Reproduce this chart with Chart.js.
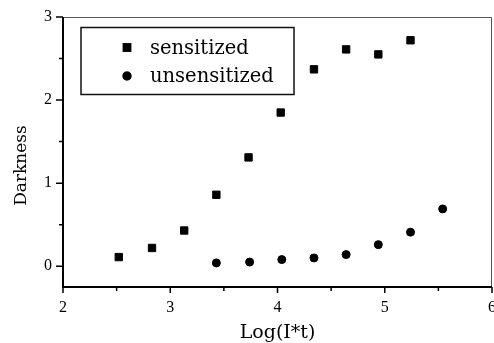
<!DOCTYPE html>
<html>
<head>
<meta charset="utf-8">
<script src="https://cdn.jsdelivr.net/npm/chart.js@4/dist/chart.umd.min.js"></script>
<style>
  html, body { margin: 0; padding: 0; background: #fff; }
  #wrap { width: 494px; height: 343px; }
</style>
</head>
<body>
<div id="wrap"><canvas id="myChart" width="494" height="343"></canvas></div>
<script>
// data
const sensX = [2.52, 2.83, 3.13, 3.43, 3.73, 4.03, 4.34, 4.64, 4.94, 5.24];
const sensY = [0.11, 0.22, 0.43, 0.86, 1.31, 1.85, 2.37, 2.61, 2.55, 2.72];
const unsX = [3.43, 3.74, 4.04, 4.34, 4.64, 4.94, 5.24, 5.54];
const unsY = [0.04, 0.05, 0.08, 0.10, 0.14, 0.26, 0.41, 0.69];
const seriesNames = ['sensitized', 'unsensitized'];
const xTitle = 'Log(I*t)';
const yTitle = 'Darkness';

const toPoints = (xs, ys) => xs.map((x, i) => ({ x: x, y: ys[i] }));

// frame, tick marks and the boxed legend
const framePlugin = {
  id: 'frame',
  afterDraw(chart) {
    const ctx = chart.ctx;
    const a = chart.chartArea;
    const xs = chart.scales.x, ys = chart.scales.y;
    ctx.save();
    // thin top and right edges
    ctx.strokeStyle = '#555';
    ctx.lineWidth = 1;
    ctx.beginPath();
    ctx.moveTo(a.left, a.top + 0.5);
    ctx.lineTo(a.right - 0.5, a.top + 0.5);
    ctx.lineTo(a.right - 0.5, a.bottom);
    ctx.stroke();
    // heavy left and bottom axes
    ctx.strokeStyle = '#000';
    ctx.lineWidth = 2;
    ctx.beginPath();
    ctx.moveTo(a.left, a.top);
    ctx.lineTo(a.left, a.bottom);
    ctx.lineTo(a.right, a.bottom);
    ctx.stroke();
    // ticks
    ctx.lineWidth = 1.5;
    ctx.beginPath();
    xs.ticks.forEach(t => {
      const px = xs.getPixelForValue(t.value);
      const len = Number.isInteger(t.value) ? 6 : 4;
      ctx.moveTo(px, a.bottom);
      ctx.lineTo(px, a.bottom + len);
    });
    ys.ticks.forEach(t => {
      if (t.value < 0) return;
      const py = ys.getPixelForValue(t.value);
      const len = Number.isInteger(t.value) ? 7 : 4;
      ctx.moveTo(a.left, py);
      ctx.lineTo(a.left - len, py);
    });
    ctx.stroke();

    // legend box
    const bx = a.left + 18, by = a.top + 10.5, bw = 213, bh = 67;
    ctx.lineWidth = 1.5;
    ctx.strokeStyle = '#111';
    ctx.strokeRect(bx, by, bw, bh);
    ctx.font = '19.5px "DejaVu Serif"';
    ctx.fillStyle = '#000';
    ctx.textBaseline = 'middle';
    ctx.textAlign = 'left';
    chart.data.datasets.forEach((ds, i) => {
      const cy = by + 20 + i * 28.5;
      Chart.helpers.drawPoint(ctx, {
        pointStyle: ds.pointStyle,
        radius: ds.pointRadius,
        borderWidth: 1
      }, bx + 46, cy);
      ctx.fill();
      ctx.fillText(ds.label, bx + 69, cy + 1);
    });
    ctx.restore();
  }
};

const config = {
  type: 'scatter',
  data: {
    datasets: [{
      label: seriesNames[0],
      data: toPoints(sensX, sensY),
      pointStyle: 'rect',
      pointRadius: 5.2,
      backgroundColor: '#000',
      borderColor: '#000',
      borderWidth: 1
    }, {
      label: seriesNames[1],
      data: toPoints(unsX, unsY),
      pointStyle: 'circle',
      pointRadius: 4,
      backgroundColor: '#000',
      borderColor: '#000',
      borderWidth: 1
    }]
  },
  options: {
    responsive: false,
    animation: false,
    events: [],
    layout: { autoPadding: false, padding: { top: 17, right: 2, left: 0, bottom: 0 } },
    plugins: {
      legend: { display: false },
      tooltip: { enabled: false }
    },
    scales: {
      x: {
        type: 'linear',
        min: 2,
        max: 6,
        grid: { display: false, drawTicks: false },
        border: { display: false },
        ticks: {
          stepSize: 0.5,
          padding: 11,
          color: '#000',
          font: { family: 'Liberation Serif', size: 16 },
          maxRotation: 0,
          autoSkip: false,
          callback: v => Number.isInteger(v) ? String(v) : ''
        },
        title: {
          display: true,
          text: xTitle,
          color: '#000',
          font: { family: 'DejaVu Serif', size: 19, lineHeight: 1 },
          padding: { top: 0, bottom: 0 }
        },
        afterFit(scale) {
          scale.height = 56;
          scale.paddingLeft = 0;
          scale.paddingRight = 0;
        }
      },
      y: {
        type: 'linear',
        min: -0.25,
        max: 3,
        grid: { display: false, drawTicks: false },
        border: { display: false },
        ticks: {
          stepSize: 0.5,
          padding: 11,
          color: '#000',
          font: { family: 'Liberation Serif', size: 16 },
          autoSkip: false,
          callback: v => Number.isInteger(v) ? String(v) : ''
        },
        title: {
          display: true,
          text: yTitle + '     ',
          color: '#000',
          font: { family: 'DejaVu Serif', size: 17, lineHeight: 1 },
          padding: { top: 13, bottom: 0 }
        },
        afterFit(scale) {
          scale.width = 63;
          scale.paddingTop = 0;
          scale.paddingBottom = 0;
        }
      }
    }
  },
  plugins: [framePlugin]
};

const myChart = new Chart(document.getElementById('myChart'), config);
</script>
</body>
</html>
